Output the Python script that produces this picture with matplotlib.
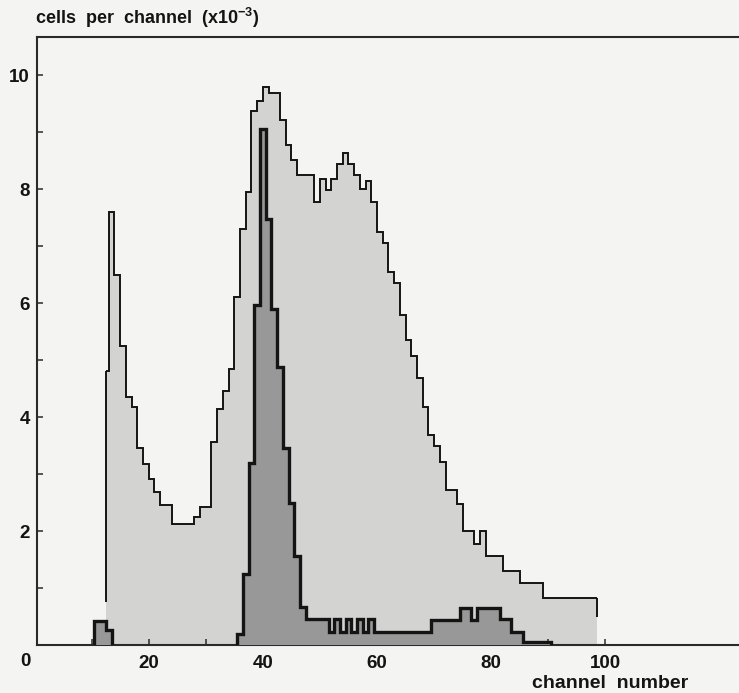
import numpy as np
import matplotlib
matplotlib.use("Agg")
import matplotlib.pyplot as plt

plt.rcParams['font.family'] = ['Liberation Sans', 'DejaVu Sans']
plt.rcParams['mathtext.fontset'] = 'custom'
plt.rcParams['mathtext.rm'] = 'Liberation Sans'
plt.rcParams['mathtext.it'] = 'Liberation Sans:italic'
plt.rcParams['mathtext.bf'] = 'Liberation Sans:bold'

# ---------------- data ----------------
# total population (light), one bin per channel [n, n+1), clipped to the gate window
total_channels = np.arange(12, 99)
total_counts = [4.8, 7.6, 6.5, 5.25, 4.35, 4.17, 3.46, 3.18, 2.92, 2.69,
                2.46, 2.46, 2.13, 2.13, 2.13, 2.13, 2.25, 2.42, 2.42, 3.57,
                4.15, 4.45, 4.85, 6.1, 7.3, 7.95, 9.37, 9.55, 9.8, 9.69,
                9.69, 9.22, 8.78, 8.51, 8.25, 8.25, 8.25, 7.78, 8.18, 7.99,
                8.18, 8.44, 8.63, 8.45, 8.25, 8.01, 8.15, 7.78, 7.25, 7.06,
                6.55, 6.35, 5.8, 5.35, 5.08, 4.68, 4.18, 3.68, 3.49, 3.22,
                2.72, 2.72, 2.47, 2.0, 2.0, 1.77, 2.0, 1.56, 1.56, 1.56,
                1.30, 1.30, 1.30, 1.08, 1.08, 1.08, 1.08, 0.82, 0.82, 0.82,
                0.82, 0.82, 0.82, 0.82, 0.82, 0.82, 0.82]
total_window = (12.5, 98.5)
total_outline_floor = (0.75, 0.5)

# sorted sub-population (dark), bins centred on the channel number
sub_channels = np.arange(11, 91)
sub_counts = [0.42, 0.42, 0.26] + [0.0] * 22 + \
             [0.19, 1.25, 3.2, 5.96, 9.06, 7.47, 5.9, 4.88, 3.46, 2.49, 1.56, 0.66,
              0.45, 0.45, 0.45, 0.45,
              0.23, 0.45, 0.23, 0.45, 0.23, 0.45, 0.23, 0.45] + \
             [0.23] * 10 + [0.43] * 5 + [0.65, 0.65, 0.43] + [0.65] * 4 + \
             [0.45, 0.45, 0.22, 0.22] + [0.05] * 5

x_major = [20, 40, 60, 80, 100]
x_minor = [10, 30, 50, 70, 90]
y_major = [2, 4, 6, 8, 10]
y_minor = [1, 3, 5, 7, 9]
x_lim = (0.44, 123.4)
y_lim = (0, 10.67)
y_title = 'cells  per  channel  (x10$^{\\mathbf{-3}}$)'
x_title = 'channel  number'
corner_label = '0'

# ---------------- style ----------------
paper = '#f4f4f2'
light_fill = '#d3d3d1'
dark_fill = '#989898'
ink = '#141414'

fig = plt.figure(figsize=(7.39, 6.93), dpi=100, facecolor=paper)
ax = fig.add_axes([37 / 739, 1 - 645 / 693, 1 - 37 / 739, (645 - 37) / 693])
ax.set_facecolor(paper)

# light histogram
t_vals = np.asarray(total_counts, float)
t_edges = np.clip(np.append(total_channels, total_channels[-1] + 1).astype(float),
                  total_window[0], total_window[1])
ax.stairs(t_vals, t_edges, baseline=0, fill=True, color=light_fill, lw=0, zorder=1)
ax.stairs(t_vals, t_edges, baseline=None, fill=False, color=ink, lw=1.4, zorder=2)
ax.vlines([t_edges[0], t_edges[-1]], total_outline_floor, [t_vals[0], t_vals[-1]],
          color=ink, lw=1.4, zorder=2)

# dark histogram, drawn run by run of non-zero bins
s_vals = np.asarray(sub_counts, float)
s_edges = np.append(sub_channels - 0.5, sub_channels[-1] + 0.5).astype(float)
nz = s_vals > 0
i = 0
while i < len(s_vals):
    if nz[i]:
        j = i
        while j < len(s_vals) and nz[j]:
            j += 1
        v = s_vals[i:j]
        e = s_edges[i:j + 1]
        ax.stairs(v, e, baseline=0, fill=True, color=dark_fill, lw=0, zorder=3)
        ax.stairs(v, e, baseline=0, fill=False, color=ink, lw=2.4, zorder=4)
        i = j
    else:
        i += 1

ax.set_xlim(*x_lim)
ax.set_ylim(*y_lim)
ax.set_xticks(x_major)
ax.set_xticks(x_minor, minor=True)
ax.set_yticks(y_major)
ax.set_yticks(y_minor, minor=True)
ax.set_xticklabels([str(v) for v in x_major], fontweight='bold')
ax.set_yticklabels([str(v) for v in y_major], fontweight='bold')

for s in ['left', 'top', 'bottom']:
    ax.spines[s].set_color('#2a2a2a')
    ax.spines[s].set_linewidth(1.5)
ax.spines['right'].set_visible(False)

ax.tick_params(axis='both', which='both', direction='in', length=4, width=1.1,
               color='#2a2a2a', labelsize=13.5, labelcolor=ink)
ax.tick_params(axis='x', which='both', pad=7)
ax.tick_params(axis='y', which='both', pad=5)
ax.tick_params(top=False, right=False)

fig.text(25 / 739, 1 - 661 / 693, corner_label, fontsize=13.5, color=ink,
         fontweight='bold', ha='center', va='center')
fig.text(35 / 739, 1 - 18 / 693, y_title, fontsize=13, color=ink,
         fontweight='bold', ha='left', va='center')
fig.text(610 / 739, 1 - 684 / 693, x_title, fontsize=14, color=ink,
         fontweight='bold', ha='center', va='center')

fig.savefig('out.png', dpi=100, facecolor=paper)
